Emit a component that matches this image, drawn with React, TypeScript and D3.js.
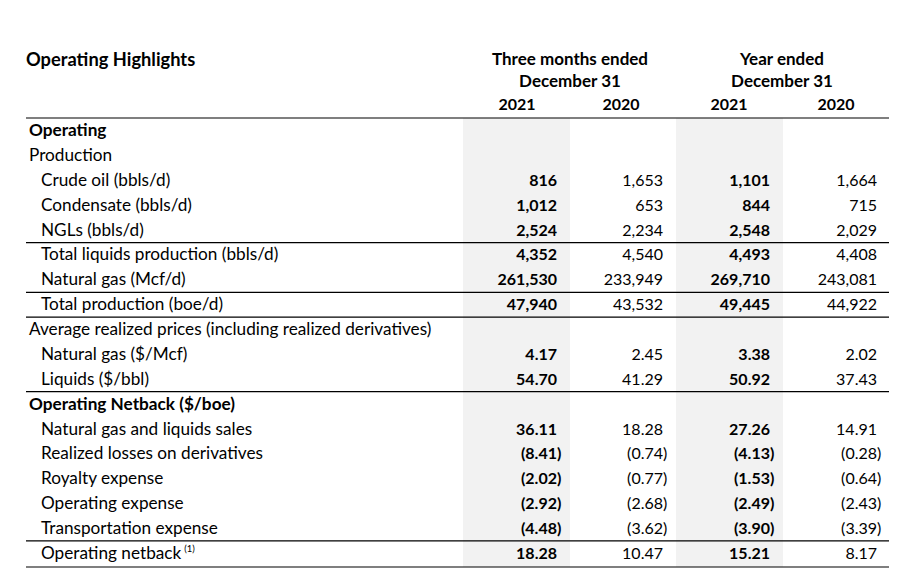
import React from "react";
import * as d3 from "d3";

const W = 909;
const H = 573;

const title = "Operating Highlights";
const groupHeaders = [
  ["Three months ended", "December 31"],
  ["Year ended", "December 31"],
];
const yearLabels = ["2021", "2020", "2021", "2020"];

const rowLabels = [
  "Operating",
  "Production",
  "Crude oil (bbls/d)",
  "Condensate (bbls/d)",
  "NGLs (bbls/d)",
  "Total liquids production (bbls/d)",
  "Natural gas (Mcf/d)",
  "Total production (boe/d)",
  "Average realized prices (including realized derivatives)",
  "Natural gas ($/Mcf)",
  "Liquids ($/bbl)",
  "Operating Netback ($/boe)",
  "Natural gas and liquids sales",
  "Realized losses on derivatives",
  "Royalty expense",
  "Operating expense",
  "Transportation expense",
  "Operating netback",
];
const rowLevel = [0, 0, 1, 1, 1, 1, 1, 1, 0, 1, 1, 0, 1, 1, 1, 1, 1, 1];
const rowHeading = [true, false, false, false, false, false, false, false, false, false, false, true, false, false, false, false, false, false];
const rowUnit = ["", "", "vol", "vol", "vol", "vol", "vol", "vol", "", "price", "price", "", "price", "price", "price", "price", "price", "price"];
const ruleAfterRows = [4, 6, 7, 10, 16, 17];

const q4_2021 = [null, null, 816, 1012, 2524, 4352, 261530, 47940, null, 4.17, 54.7, null, 36.11, -8.41, -2.02, -2.92, -4.48, 18.28];
const q4_2020 = [null, null, 1653, 653, 2234, 4540, 233949, 43532, null, 2.45, 41.29, null, 18.28, -0.74, -0.77, -2.68, -3.62, 10.47];
const fy_2021 = [null, null, 1101, 844, 2548, 4493, 269710, 49445, null, 3.38, 50.92, null, 27.26, -4.13, -1.53, -2.49, -3.9, 15.21];
const fy_2020 = [null, null, 1664, 715, 2029, 4408, 243081, 44922, null, 2.02, 37.43, null, 14.91, -0.28, -0.64, -2.43, -3.39, 8.17];
const series = [q4_2021, q4_2020, fy_2021, fy_2020];
const boldSeries = [true, false, true, false];
const footnote = "(1)";

const FONT = "Lato, 'Open Sans', sans-serif";
const FS_LABEL = 17.2;
const FS_NUM = 16;

export default function App() {
  const yRow = d3.scaleLinear().domain([0, rowLabels.length - 1]).range([130.7, 553.3]);
  const colRight = d3.scaleOrdinal<number, number>().domain([0, 1, 2, 3]).range([557, 663, 770, 877]);
  const colCenter = d3.scaleOrdinal<number, number>().domain([0, 1, 2, 3]).range([517, 621, 729, 836]);
  const groupCenter = [570, 782];
  const bands = [
    [463, 570],
    [676, 783],
  ];
  const tableLeft = 26;
  const tableRight = 889;
  const headerRule = 118;
  const bottom = 567;
  const fmtVol = d3.format(",d");
  const fmtPrice = d3.format(".2f");
  const half = (yRow(1) - yRow(0)) / 2;

  const fmt = (v: number, unit: string) => (unit === "vol" ? fmtVol(Math.abs(v)) : fmtPrice(Math.abs(v)));

  return (
    <svg
      width={W}
      height={H}
      style={{ position: "absolute", left: 0, top: 0, background: "#fff" }}
      fontFamily={FONT}
      fontSize={FS_LABEL}
      fill="#000"
    >
      <rect width={W} height={H} fill="#fff" />
      {bands.map(([a, b], i) => (
        <rect key={i} x={a} y={headerRule} width={b - a} height={bottom - headerRule} fill="#f2f2f2" />
      ))}
      <text x={tableLeft} y={66} fontWeight="bold" fontSize={18.3}>
        {title}
      </text>
      {groupHeaders.map((lines, g) =>
        lines.map((t, k) => (
          <text key={`${g}-${k}`} x={groupCenter[g]} y={65 + k * 21.5} textAnchor="middle" fontWeight="bold" fontSize={17}>
            {t}
          </text>
        ))
      )}
      {yearLabels.map((t, i) => (
        <text key={i} x={colCenter(i)} y={110} textAnchor="middle" fontWeight="bold" fontSize={FS_NUM}>
          {t}
        </text>
      ))}
      <line x1={tableLeft} x2={tableRight} y1={headerRule} y2={headerRule} stroke="#000" strokeWidth={1.2} />
      {ruleAfterRows.map((r) => {
        const y = r === rowLabels.length - 1 ? bottom : yRow(r) + half;
        return <line key={r} x1={tableLeft} x2={tableRight} y1={y} y2={y} stroke="#000" strokeWidth={1.2} />;
      })}
      {rowLabels.map((lab, r) => (
        <text
          key={r}
          x={rowLevel[r] ? 41 : 29}
          y={yRow(r) + 5.5}
          fontWeight={rowHeading[r] ? "bold" : "normal"}
        >
          {lab}
          {r === rowLabels.length - 1 ? (
            <tspan fontSize={9.5} dx={3} dy={-6.5}>
              {footnote}
            </tspan>
          ) : null}
        </text>
      ))}
      <g fontSize={FS_NUM}>
        {series.map((vals, c) =>
          vals.map((v, r) => {
            if (v === null) return null;
            const x = colRight(c);
            const y = yRow(r) + 5.5;
            const fw = boldSeries[c] ? "bold" : "normal";
            if (v < 0) {
              return (
                <g key={`${c}-${r}`} fontWeight={fw}>
                  <text x={x} y={y} textAnchor="end">
                    {"(" + fmt(v, rowUnit[r])}
                  </text>
                  <text x={x} y={y}>
                    )
                  </text>
                </g>
              );
            }
            return (
              <text key={`${c}-${r}`} x={x} y={y} textAnchor="end" fontWeight={fw}>
                {fmt(v, rowUnit[r])}
              </text>
            );
          })
        )}
      </g>
    </svg>
  );
}
